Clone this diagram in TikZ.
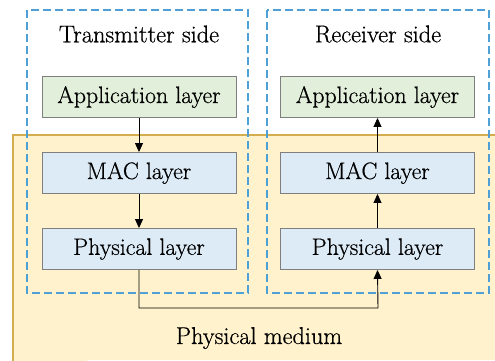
\documentclass[tikz,border=0pt]{standalone}
\usepackage{fontspec}
\setmainfont{Latin Modern Roman}[FakeBold=0.6]
\usetikzlibrary{arrows.meta}
\definecolor{bgfill}{HTML}{FFF2CC}
\definecolor{bgline}{HTML}{D4AE4E}
\definecolor{dashblue}{HTML}{4FA0D6}
\definecolor{greenfill}{HTML}{E2EFDA}
\definecolor{bluefill}{HTML}{DDEBF7}
\definecolor{boxline}{HTML}{7F7F7F}
\begin{document}
\begin{tikzpicture}[x=1pt,y=-1pt,
  layerbox/.style={draw=boxline,line width=0.9pt,minimum width=194pt,minimum height=41pt,inner sep=0pt,font=\fontsize{23.8}{27}\selectfont},
  appbox/.style={layerbox,fill=greenfill},
  lowbox/.style={layerbox,fill=bluefill},
  sidebox/.style={draw=dashblue,line width=1.1pt,dash pattern=on 8pt off 4pt},
  flow/.style={draw=black,line width=0.9pt,-{Triangle[length=9pt,width=8pt]}},
  title/.style={font=\fontsize{24.3}{28}\selectfont}]
\useasboundingbox (0,0) rectangle (495,360);
\fill[white] (0,0) rectangle (495,360);
\draw[fill=bgfill,draw=bgline,line width=1.2pt] (13,400) -- (13,135) -- (510,135);
\fill[bgfill] (13.6,135.6) rectangle (495,360);
\draw[sidebox] (27,10) rectangle (248,293);
\draw[sidebox] (267,10) rectangle (489,293);
\node[title] (ts) at (139,34) {Transmitter side};
\node[title] (rs) at (378,34) {Receiver side};
\node[appbox] (la) at (139,97) {Application layer};
\node[lowbox] (lm) at (139,173) {MAC layer};
\node[lowbox] (lp) at (139,249) {Physical layer};
\node[appbox] (ra) at (377.5,97) {Application layer};
\node[lowbox] (rm) at (377.5,173) {MAC layer};
\node[lowbox] (rp) at (377.5,249) {Physical layer};
\node[title] (pm) at (259,338) {Physical medium};
\draw[flow] (la) -- (lm);
\draw[flow] (lm) -- (lp);
\draw[flow] (rm.north) -- (ra.south);
\draw[flow] (rp) -- (rm);
\coordinate (c1) at (139,308);
\coordinate (c2) at (378,308);
\draw[flow] (lp.south) -- (c1) -- (c2) -- (rp.south);
\end{tikzpicture}
\end{document}
